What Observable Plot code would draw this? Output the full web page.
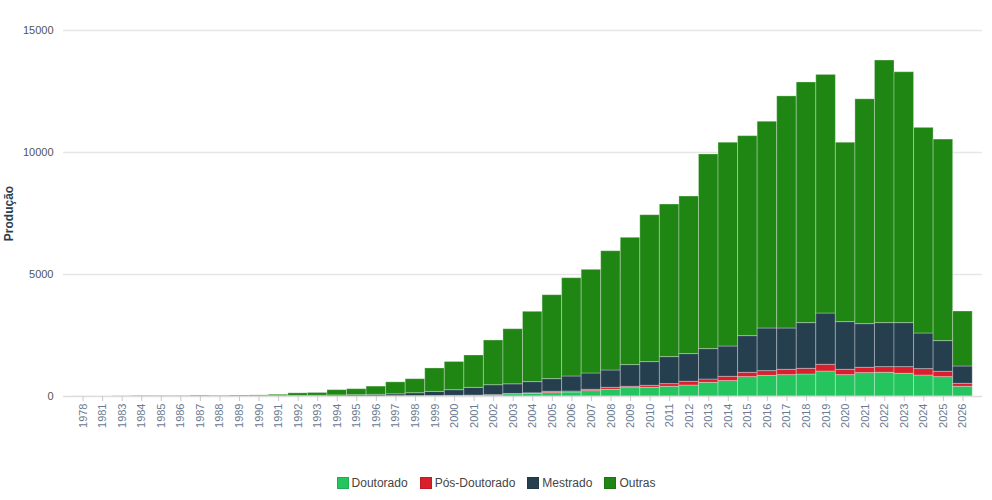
<!DOCTYPE html>
<html>
<head>
<meta charset="utf-8">
<script src="https://cdn.jsdelivr.net/npm/d3@7"></script>
<script src="https://cdn.jsdelivr.net/npm/@observablehq/plot@0.6"></script>
<style>
  body { margin: 0; background: #fff; font-family: "Liberation Sans", Arial, sans-serif; }
  #chart svg g[aria-label="y-axis label"] text { font-weight: bold; fill: #2c3e50; font-size: 12px; }
  #legend { display: flex; justify-content: center; gap: 12px; margin-top: 26px; font-size: 12px; color: #444; width: 992px; }
  #legend .item { display: flex; align-items: center; gap: 3px; }
  #legend .sw { width: 10px; height: 10px; border: 1px solid rgba(0,0,0,0.12); }
</style>
</head>
<body>
<div id="chart"></div>
<div id="legend"></div>
<script>
const years = ["1978","1981","1983","1984","1985","1986","1987","1988","1989","1990","1991","1992","1993","1994","1995","1996","1997","1998","1999","2000","2001","2002","2003","2004","2005","2006","2007","2008","2009","2010","2011","2012","2013","2014","2015","2016","2017","2018","2019","2020","2021","2022","2023","2024","2025","2026"];
const series = ["Doutorado", "Pós-Doutorado", "Mestrado", "Outras"];
const colors = ["#24c45f", "#d91f2d", "#263f4f", "#1f8613"];

const doutorado = [0,0,0,0,0,0,0,0,0,0,2,3,4,5,6,8,10,12,15,20,30,45,90,110,140,164,220,275,344,357,398,451,561,631,795,848,877,902,1025,877,959,971,930,861,795,398];
const posDoutorado = [0,0,0,0,0,0,0,0,0,0,0,0,0,0,0,0,2,3,4,6,8,12,15,20,53,41,55,82,54,81,110,151,136,176,176,193,217,233,274,217,217,234,275,262,217,122];
const mestrado = [0,0,0,0,0,5,15,5,10,10,13,22,26,40,49,62,78,120,171,234,317,406,395,460,520,615,668,709,889,972,1107,1136,1246,1242,1504,1746,1693,1873,2102,1955,1791,1803,1803,1459,1258,710];
const outras = [3,2,10,20,18,15,25,20,30,35,55,105,115,215,245,335,490,575,960,1155,1325,1832,2258,2881,3438,4028,4249,4888,5217,6020,6253,6458,7977,8351,8195,8473,9513,9862,9779,7351,9213,10762,10282,8428,8260,2253];

const yTicks = [0, 5000, 10000, 15000];

const valuesBySeries = [doutorado, posDoutorado, mestrado, outras];
const data = [];
years.forEach((yr, i) => {
  series.forEach((s, j) => data.push({year: yr, serie: s, value: valuesBySeries[j][i]}));
});

const chart = Plot.plot({
  width: 992,
  height: 450,
  marginLeft: 63,
  marginRight: 10,
  marginTop: 30,
  marginBottom: 54,
  style: { fontFamily: "Liberation Sans, Arial, sans-serif", fontSize: "11px", background: "#fff" },
  x: { domain: years, paddingInner: 0, paddingOuter: 0.5, round: false, label: null },
  y: { domain: [0, 15000], label: "Produção", labelAnchor: "center", labelArrow: "none", labelOffset: 59 },
  color: { domain: series, range: colors },
  marks: [
    Plot.gridY(yTicks.slice(1), { stroke: "#e6e6e6", strokeOpacity: 1, strokeWidth: 1.5 }),
    Plot.barY(data, {
      x: "year", y: "value", fill: "serie", order: series,
      stroke: "#ffffff", strokeOpacity: 0.3, strokeWidth: 1
    }),
    Plot.ruleY([0], { stroke: "#dedede", strokeWidth: 1.5 }),
    Plot.axisY({ ticks: yTicks, tickSize: 0, tickPadding: 10, tickFormat: d => String(d), fill: "#555", label: "Produção", labelAnchor: "center", labelArrow: "none", labelOffset: 59 }),
    Plot.axisX({ tickRotate: -90, tickSize: 5, tickPadding: 2, stroke: "#c8c8c8", fill: "#6b7a90", label: null })
  ]
});
document.getElementById("chart").appendChild(chart);

const legend = document.getElementById("legend");
series.forEach((s, j) => {
  const item = document.createElement("div");
  item.className = "item";
  const sw = document.createElement("span");
  sw.className = "sw";
  sw.style.background = colors[j];
  const t = document.createElement("span");
  t.textContent = s;
  item.appendChild(sw);
  item.appendChild(t);
  legend.appendChild(item);
});
</script>
</body>
</html>
